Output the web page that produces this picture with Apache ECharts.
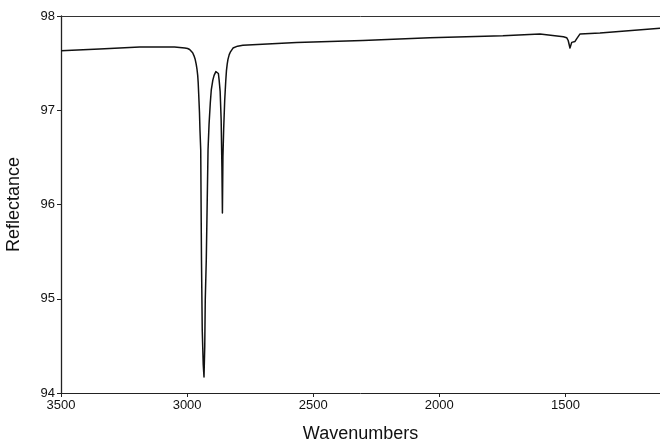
<!DOCTYPE html>
<html>
<head>
<meta charset="utf-8">
<script src="https://cdn.jsdelivr.net/npm/echarts@6/dist/echarts.min.js"></script>
<style>
html,body{margin:0;padding:0;background:#fff;}
#chart{width:660px;height:443px;}
</style>
</head>
<body>
<div id="chart"></div>
<script>
// Data
const wavenumbers = [3500, 3347, 3188, 3050, 3009, 2998, 2990, 2984, 2978, 2973, 2968, 2964, 2961, 2958, 2956, 2954, 2951, 2949, 2946, 2943, 2940, 2936, 2933, 2930, 2928, 2924, 2917, 2913, 2908, 2904, 2898, 2893, 2886, 2880, 2876, 2873, 2869, 2865, 2862, 2860, 2858, 2855, 2851, 2847, 2844, 2841, 2838, 2833, 2828, 2818, 2800, 2779, 2566, 2303, 2038, 1748, 1601, 1508, 1495, 1489, 1482, 1475, 1469, 1462, 1455, 1442, 1363, 1125];
const reflectance = [97.63, 97.65, 97.67, 97.67, 97.66, 97.655, 97.645, 97.63, 97.61, 97.58, 97.54, 97.49, 97.44, 97.37, 97.29, 97.17, 96.98, 96.79, 96.58, 95.41, 94.67, 94.3, 94.17, 94.5, 94.99, 95.41, 96.58, 96.85, 97.08, 97.22, 97.32, 97.37, 97.41, 97.42, 97.39, 97.32, 97.2, 96.9, 96.4, 95.91, 96.5, 96.8, 97.1, 97.3, 97.42, 97.49, 97.54, 97.59, 97.62, 97.66, 97.68, 97.69, 97.72, 97.74, 97.77, 97.79, 97.81, 97.78, 97.77, 97.74, 97.66, 97.72, 97.70, 97.73, 97.76, 97.81, 97.82, 97.87];
const xTicks = [1500, 2000, 2500, 3000, 3500];
const yTicks = [94, 95, 96, 97, 98];

const chart = echarts.init(document.getElementById('chart'), null, {renderer: 'canvas'});
const font = '"Liberation Sans", Arial, Helvetica, sans-serif';
chart.setOption({
  animation: false,
  backgroundColor: '#fff',
  grid: {left: 61, right: 0, top: 16, bottom: 50, containLabel: false, outerBoundsMode: 'none'},
  xAxis: [{
    type: 'value', inverse: true, min: 1125, max: 3500,
    position: 'bottom',
    axisLine: {show: true, onZero: false, lineStyle: {color: '#222', width: 1}},
    axisTick: {show: true, inside: false, length: 4, customValues: xTicks, lineStyle: {color: '#222'}},
    axisLabel: {show: true, customValues: xTicks, formatter: v => String(v), color: '#111', fontSize: 13, fontFamily: font, margin: 6},
    splitLine: {show: false},
    name: 'Wavenumbers', nameLocation: 'middle', nameGap: 32,
    nameTextStyle: {fontSize: 18, fontFamily: font, color: '#111'}
  }, {
    type: 'value', inverse: true, min: 1125, max: 3500,
    position: 'top',
    axisLine: {show: true, onZero: false, lineStyle: {color: '#333', width: 1}},
    axisTick: {show: false}, axisLabel: {show: false}, splitLine: {show: false}
  }],
  yAxis: {
    type: 'value', min: 94, max: 98, interval: 1,
    axisLine: {show: true, lineStyle: {color: '#222', width: 1.3}},
    axisTick: {show: true, inside: false, length: 4, lineStyle: {color: '#222'}},
    axisLabel: {color: '#111', fontSize: 13, fontFamily: font, margin: 6, formatter: v => String(v)},
    splitLine: {show: false},
    name: 'Reflectance', nameLocation: 'middle', nameGap: 38, nameRotate: 90,
    nameTextStyle: {fontSize: 18, fontFamily: font, color: '#111'}
  },
  series: [{
    type: 'line',
    xAxisIndex: 0,
    data: wavenumbers.map((w, i) => [w, reflectance[i]]),
    showSymbol: false,
    smooth: false,
    lineStyle: {color: '#111', width: 1.5, join: 'round'},
    clip: true
  }]
});
</script>
</body>
</html>
